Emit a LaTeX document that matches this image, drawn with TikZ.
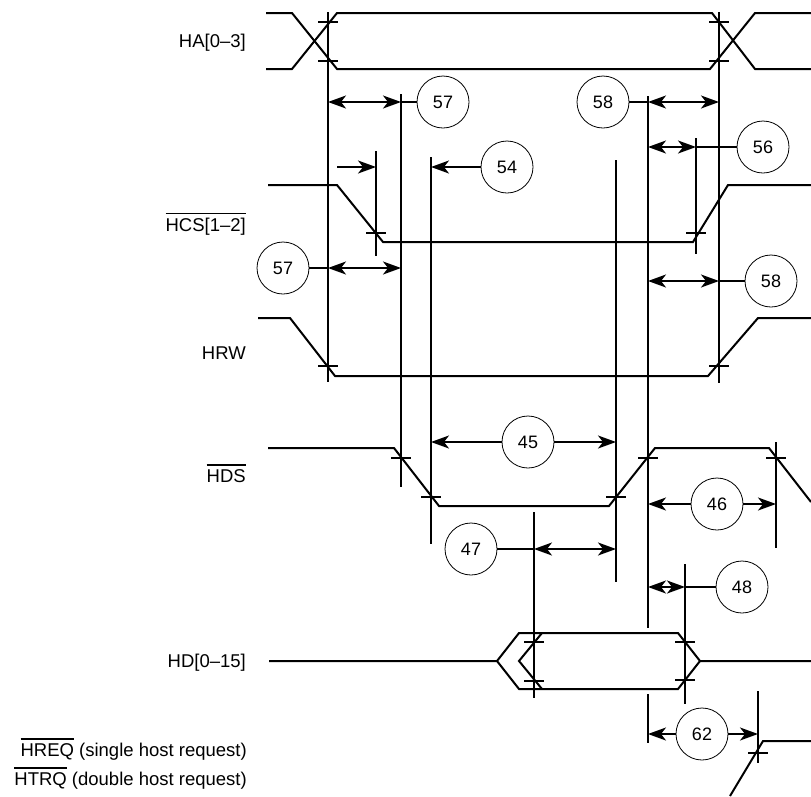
\documentclass[tikz,border=0pt]{standalone}
\usepackage{fontspec}
\setmainfont{Liberation Sans}
\usetikzlibrary{arrows.meta, positioning, calc}

% negiertes Signal
\newcommand{\invsig}[1]{\leavevmode\vbox{\hrule height 1.2pt\kern 3.5pt\hbox{#1}}}

\begin{document}
\begin{tikzpicture}[x=1pt, y=-1pt,
    sig/.style={line width=2pt},
    hilf/.style={line width=1.8pt},
    kreuz/.style={line width=1.8pt},
    zeit/.style={circle, draw, line width=0.8pt, minimum size=52pt, inner sep=0pt, font=\fontsize{18}{21}\selectfont},
    signame/.style={anchor=base east, inner sep=0pt, font=\fontsize{18.5}{22}\selectfont},
    pfeil/.style={line width=1.7pt, -{Stealth[length=18pt, width=13pt, inset=5pt]}},
    doppel/.style={line width=1.7pt, {Stealth[length=18pt, width=13pt, inset=5pt]}-{Stealth[length=18pt, width=13pt, inset=5pt]}}]

        \useasboundingbox (0,0) rectangle (811,796);

        % Signalnamen
        \node[signame] (lHA) at (246,47) {HA[0–3]};
        \node[signame] (lHCS) at (246,231) {\invsig{HCS[1–2]}};
        \node[signame] (lHRW) at (246,359) {HRW};
        \node[signame] (lHDS) at (246,482) {\invsig{HDS}};
        \node[signame] (lHD) at (246,667) {HD[0–15]};
        \node[signame] (lHREQ) at (247,756) {\invsig{HREQ} (single host request)};
        \node[signame] (lHTRQ) at (247,785) {\invsig{HTRQ} (double host request)};

        % Adressbus
        \draw[sig] (266,13) -- (292,13) -- (337,69) -- (710,69) -- (755,13) -- (811,13);
        \draw[sig] (266,69) -- (292,69) -- (337,13) -- (712,13) -- (755,69) -- (811,69);

        % Chip Select
        \draw[sig] (268,185) -- (337,185) -- (383,242) -- (693,242) -- (728,185) -- (811,185);

        % Lesen/Schreiben
        \draw[sig] (258,318) -- (290,318) -- (335,376) -- (708,376) -- (758,318) -- (811,318);

        % Data Strobe
        \draw[sig] (268,448) -- (394,448) -- (439,506) -- (609,506) -- (655,448) -- (769,448) -- (811,502);

        % Datenbus
        \draw[sig] (269,661) -- (497,661) -- (519,633) -- (678,633) -- (700,661) -- (811,661);
        \draw[sig] (497,661) -- (519,689) -- (678,689) -- (700,661);
        \draw[sig] (542,633) -- (519,661) -- (542,689);

        % Host Request
        \draw[sig] (730,796) -- (763,741) -- (811,741);

        % Hilfslinien
        \foreach \n/\x/\a/\b in {vHA1/328/12/382, vHA2/719/12/383, vHCS1/376/151/256, vHCS2/696/138/254,
                                 vHDSa/401/94/487, vHDSb/431/157/544, vHDSc/616/160/582, vHDSd/648/96/628,
                                 vHDSe/776/442/548, vHD1/534/512/698, vHD2/685/564/704, vREQ/758/691/763} {
            \coordinate (\n) at (\x,0);
            \draw[hilf] (\x,\a) -- (\x,\b);
        }
        \draw[hilf] (648,694) -- (648,743);

        % Kreuze
        \foreach \x/\y in {328/22, 328/61, 719/22, 719/61, 376/233, 696/233, 328/366, 719/366,
                           401/458, 431/497, 616/497, 648/458, 776/458, 534/642, 534/681,
                           685/642, 685/680, 758/753}
            \draw[kreuz] (\x-10,\y) -- (\x+10,\y);

        % Zeitmarken
        \node[zeit] (z57a) at (443,102) {57};
        \node[zeit] (z58a) at (603,102) {58};
        \node[zeit] (z56) at (763,147) {56};
        \node[zeit] (z54) at (507,167) {54};
        \node[zeit] (z57b) at (283,268) {57};
        \node[zeit] (z58b) at (771,281) {58};
        \node[zeit] (z45) at (528,442) {45};
        \node[zeit] (z46) at (717,504) {46};
        \node[zeit] (z47) at (471,549) {47};
        \node[zeit] (z48) at (742,587) {48};
        \node[zeit] (z62) at (702,734) {62};
        \coordinate (s54) at (337,167);

        % Pfeile
        \draw[doppel] (vHA1 |- z57a) -- (vHDSa |- z57a);
        \draw[hilf] (vHDSa |- z57a) -- (z57a);
        \draw[hilf] (z58a) -- (vHDSd |- z58a);
        \draw[doppel] (vHDSd |- z58a) -- (vHA2 |- z58a);
        \draw[doppel] (vHDSd |- z56) -- (vHCS2 |- z56);
        \draw[hilf] (vHCS2 |- z56) -- (z56);
        \draw[pfeil] (s54) -- (vHCS1 |- s54);
        \draw[pfeil] (z54) -- (vHDSb |- z54);
        \draw[hilf] (z57b) -- (vHA1 |- z57b);
        \draw[doppel] (vHA1 |- z57b) -- (vHDSa |- z57b);
        \draw[doppel] (vHDSd |- z58b) -- (vHA2 |- z58b);
        \draw[hilf] (vHA2 |- z58b) -- (z58b);
        \draw[pfeil] (z45) -- (vHDSb |- z45);
        \draw[pfeil] (z45) -- (vHDSc |- z45);
        \draw[pfeil] (z46) -- (vHDSd |- z46);
        \draw[pfeil] (z46) -- (vHDSe |- z46);
        \draw[hilf] (z47) -- (vHD1 |- z47);
        \draw[doppel] (vHD1 |- z47) -- (vHDSc |- z47);
        \draw[doppel] (vHDSd |- z48) -- (vHD2 |- z48);
        \draw[hilf] (vHD2 |- z48) -- (z48);
        \draw[pfeil] (z62) -- (vHDSd |- z62);
        \draw[pfeil] (z62) -- (vREQ |- z62);

      \end{tikzpicture}
\end{document}
